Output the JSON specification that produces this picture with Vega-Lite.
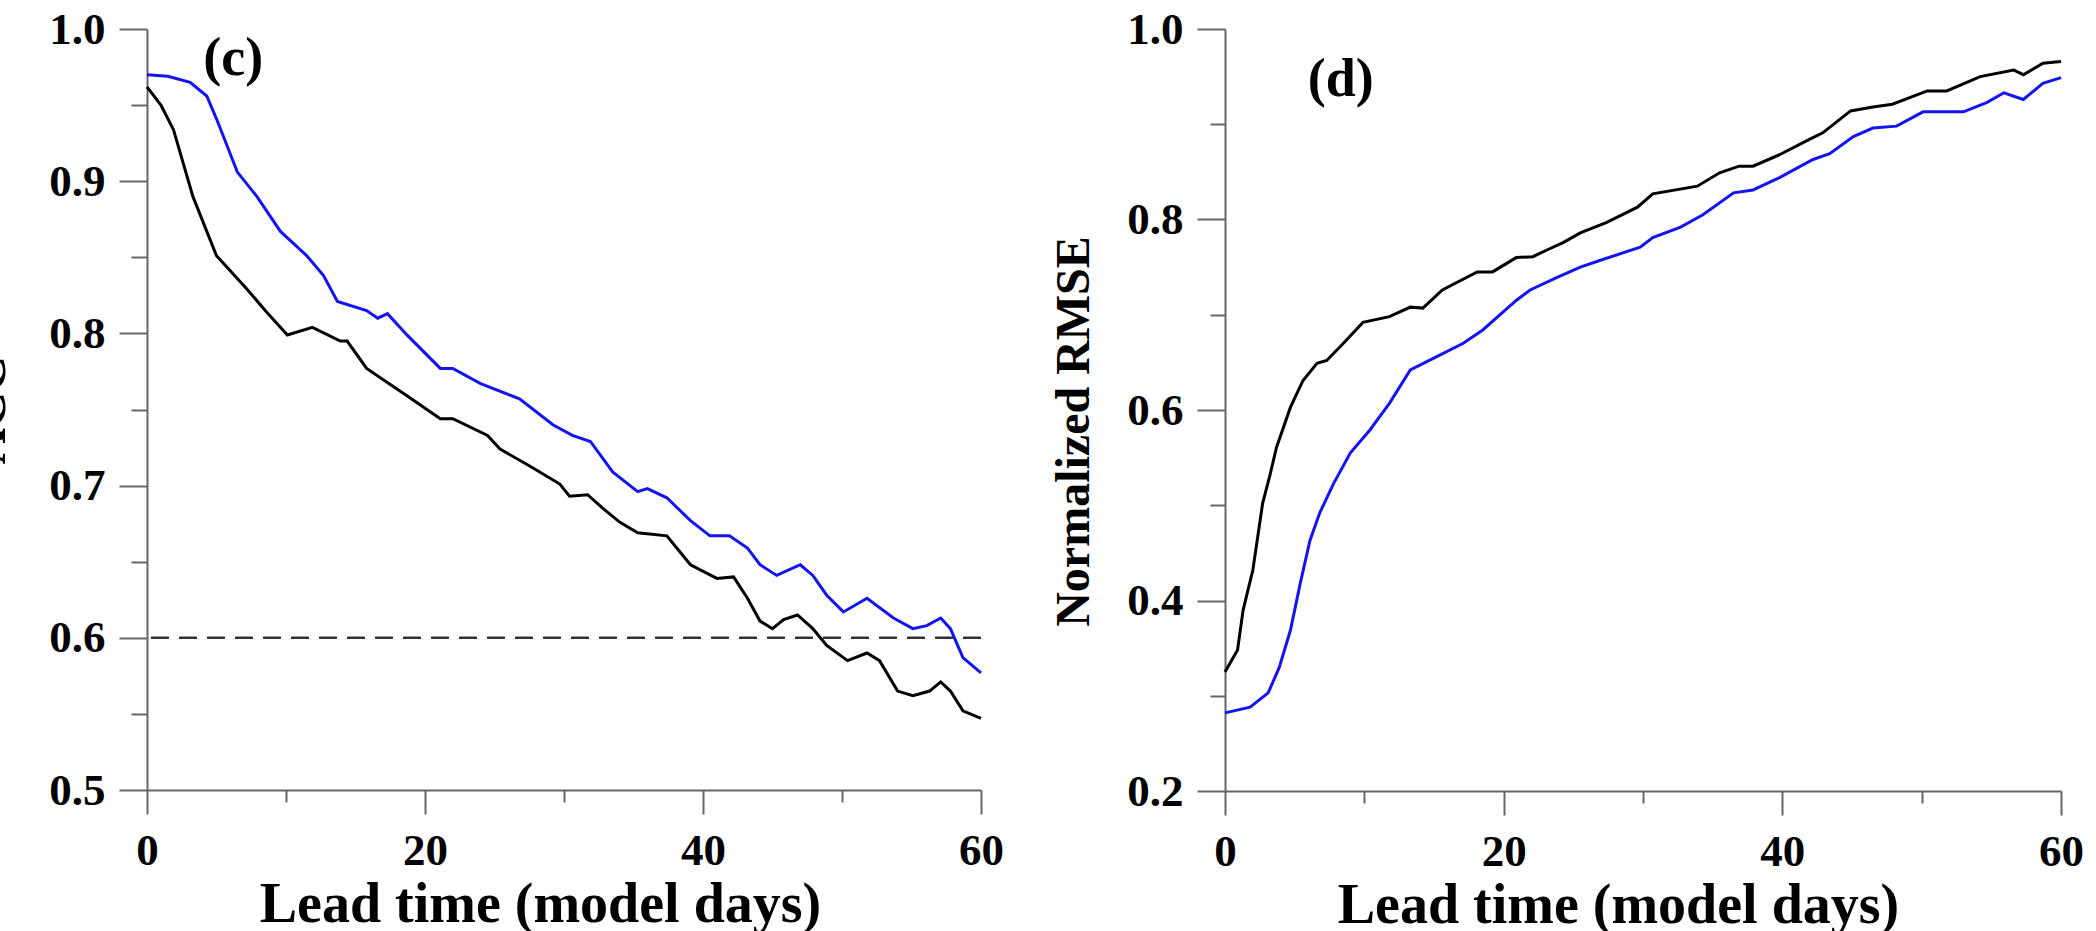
{
  "$schema": "https://vega.github.io/schema/vega-lite/v6.json",
  "background": "white",
  "padding": {"left": -36, "top": 7, "right": 0, "bottom": 0},
  "bounds": "flush",
  "spacing": 244,
  "config": {
    "view": {"stroke": null},
    "font": "Liberation Serif",
    "axis": {
      "domainColor": "#666666",
      "domainWidth": 2,
      "tickColor": "#666666",
      "tickWidth": 2,
      "grid": false,
      "labelFont": "Liberation Serif",
      "labelFontWeight": "bold",
      "labelFontSize": 45,
      "labelColor": "black",
      "titleFont": "Liberation Serif",
      "titleFontWeight": "bold",
      "titleColor": "black"
    }
  },
  "datasets": {
    "c": [
      {"series": "black", "lead": 0, "value": 0.962},
      {"series": "black", "lead": 1.0, "value": 0.950},
      {"series": "black", "lead": 1.9, "value": 0.934},
      {"series": "black", "lead": 3.3, "value": 0.890},
      {"series": "black", "lead": 5.0, "value": 0.851},
      {"series": "black", "lead": 7.2, "value": 0.829},
      {"series": "black", "lead": 8.6, "value": 0.814},
      {"series": "black", "lead": 10.1, "value": 0.799},
      {"series": "black", "lead": 11.9, "value": 0.804},
      {"series": "black", "lead": 13.9, "value": 0.795},
      {"series": "black", "lead": 14.4, "value": 0.795},
      {"series": "black", "lead": 15.8, "value": 0.777},
      {"series": "black", "lead": 18.7, "value": 0.759},
      {"series": "black", "lead": 21.1, "value": 0.744},
      {"series": "black", "lead": 22.0, "value": 0.744},
      {"series": "black", "lead": 24.5, "value": 0.733},
      {"series": "black", "lead": 25.4, "value": 0.724},
      {"series": "black", "lead": 27.5, "value": 0.713},
      {"series": "black", "lead": 29.7, "value": 0.701},
      {"series": "black", "lead": 30.4, "value": 0.693},
      {"series": "black", "lead": 31.7, "value": 0.694},
      {"series": "black", "lead": 32.8, "value": 0.685},
      {"series": "black", "lead": 34.0, "value": 0.676},
      {"series": "black", "lead": 35.3, "value": 0.669},
      {"series": "black", "lead": 37.4, "value": 0.667},
      {"series": "black", "lead": 39.1, "value": 0.648},
      {"series": "black", "lead": 41.0, "value": 0.639},
      {"series": "black", "lead": 42.2, "value": 0.640},
      {"series": "black", "lead": 43.2, "value": 0.626},
      {"series": "black", "lead": 44.1, "value": 0.611},
      {"series": "black", "lead": 45.0, "value": 0.606},
      {"series": "black", "lead": 45.8, "value": 0.612},
      {"series": "black", "lead": 46.8, "value": 0.615},
      {"series": "black", "lead": 47.9, "value": 0.606},
      {"series": "black", "lead": 48.9, "value": 0.595},
      {"series": "black", "lead": 50.4, "value": 0.585},
      {"series": "black", "lead": 51.8, "value": 0.590},
      {"series": "black", "lead": 52.7, "value": 0.585},
      {"series": "black", "lead": 54.0, "value": 0.565},
      {"series": "black", "lead": 55.1, "value": 0.562},
      {"series": "black", "lead": 56.3, "value": 0.565},
      {"series": "black", "lead": 57.1, "value": 0.571},
      {"series": "black", "lead": 57.8, "value": 0.565},
      {"series": "black", "lead": 58.7, "value": 0.552},
      {"series": "black", "lead": 60, "value": 0.547},
      {"series": "blue", "lead": 0, "value": 0.970},
      {"series": "blue", "lead": 1.5, "value": 0.969},
      {"series": "blue", "lead": 3.1, "value": 0.965},
      {"series": "blue", "lead": 4.3, "value": 0.956},
      {"series": "blue", "lead": 5.0, "value": 0.941},
      {"series": "blue", "lead": 6.5, "value": 0.906},
      {"series": "blue", "lead": 7.9, "value": 0.890},
      {"series": "blue", "lead": 9.6, "value": 0.867},
      {"series": "blue", "lead": 11.5, "value": 0.851},
      {"series": "blue", "lead": 12.7, "value": 0.838},
      {"series": "blue", "lead": 13.7, "value": 0.821},
      {"series": "blue", "lead": 15.8, "value": 0.815},
      {"series": "blue", "lead": 16.6, "value": 0.810},
      {"series": "blue", "lead": 17.3, "value": 0.813},
      {"series": "blue", "lead": 18.7, "value": 0.799},
      {"series": "blue", "lead": 21.1, "value": 0.777},
      {"series": "blue", "lead": 22.0, "value": 0.777},
      {"series": "blue", "lead": 24.0, "value": 0.767},
      {"series": "blue", "lead": 26.8, "value": 0.757},
      {"series": "blue", "lead": 29.2, "value": 0.740},
      {"series": "blue", "lead": 30.6, "value": 0.733},
      {"series": "blue", "lead": 31.9, "value": 0.729},
      {"series": "blue", "lead": 33.5, "value": 0.709},
      {"series": "blue", "lead": 35.3, "value": 0.696},
      {"series": "blue", "lead": 36.0, "value": 0.698},
      {"series": "blue", "lead": 37.4, "value": 0.692},
      {"series": "blue", "lead": 39.1, "value": 0.677},
      {"series": "blue", "lead": 40.5, "value": 0.667},
      {"series": "blue", "lead": 41.9, "value": 0.667},
      {"series": "blue", "lead": 43.2, "value": 0.659},
      {"series": "blue", "lead": 44.1, "value": 0.648},
      {"series": "blue", "lead": 45.3, "value": 0.641},
      {"series": "blue", "lead": 47.0, "value": 0.648},
      {"series": "blue", "lead": 47.9, "value": 0.641},
      {"series": "blue", "lead": 48.9, "value": 0.628},
      {"series": "blue", "lead": 50.1, "value": 0.617},
      {"series": "blue", "lead": 51.8, "value": 0.626},
      {"series": "blue", "lead": 53.7, "value": 0.613},
      {"series": "blue", "lead": 55.1, "value": 0.606},
      {"series": "blue", "lead": 56.1, "value": 0.608},
      {"series": "blue", "lead": 57.1, "value": 0.613},
      {"series": "blue", "lead": 57.8, "value": 0.606},
      {"series": "blue", "lead": 58.7, "value": 0.587},
      {"series": "blue", "lead": 60, "value": 0.577}
    ],
    "d": [
      {"series": "black", "lead": 0, "value": 0.325},
      {"series": "black", "lead": 0.9, "value": 0.348},
      {"series": "black", "lead": 1.3, "value": 0.390},
      {"series": "black", "lead": 2.0, "value": 0.432},
      {"series": "black", "lead": 2.7, "value": 0.502},
      {"series": "black", "lead": 3.2, "value": 0.530},
      {"series": "black", "lead": 3.7, "value": 0.561},
      {"series": "black", "lead": 4.7, "value": 0.603},
      {"series": "black", "lead": 5.6, "value": 0.631},
      {"series": "black", "lead": 6.6, "value": 0.649},
      {"series": "black", "lead": 7.3, "value": 0.652},
      {"series": "black", "lead": 8.5, "value": 0.670},
      {"series": "black", "lead": 9.9, "value": 0.692},
      {"series": "black", "lead": 11.8, "value": 0.698},
      {"series": "black", "lead": 13.3, "value": 0.708},
      {"series": "black", "lead": 14.2, "value": 0.707},
      {"series": "black", "lead": 15.6, "value": 0.726},
      {"series": "black", "lead": 18.1, "value": 0.745},
      {"series": "black", "lead": 19.2, "value": 0.745},
      {"series": "black", "lead": 20.9, "value": 0.760},
      {"series": "black", "lead": 22.1, "value": 0.761},
      {"series": "black", "lead": 23.1, "value": 0.768},
      {"series": "black", "lead": 24.3, "value": 0.776},
      {"series": "black", "lead": 25.5, "value": 0.786},
      {"series": "black", "lead": 27.4, "value": 0.797},
      {"series": "black", "lead": 29.6, "value": 0.813},
      {"series": "black", "lead": 30.7, "value": 0.827},
      {"series": "black", "lead": 33.9, "value": 0.835},
      {"series": "black", "lead": 35.5, "value": 0.849},
      {"series": "black", "lead": 36.9, "value": 0.856},
      {"series": "black", "lead": 37.9, "value": 0.856},
      {"series": "black", "lead": 39.8, "value": 0.868},
      {"series": "black", "lead": 41.8, "value": 0.883},
      {"series": "black", "lead": 42.9, "value": 0.891},
      {"series": "black", "lead": 44.9, "value": 0.914},
      {"series": "black", "lead": 46.5, "value": 0.918},
      {"series": "black", "lead": 47.9, "value": 0.921},
      {"series": "black", "lead": 50.4, "value": 0.935},
      {"series": "black", "lead": 51.8, "value": 0.935},
      {"series": "black", "lead": 54.2, "value": 0.950},
      {"series": "black", "lead": 56.6, "value": 0.957},
      {"series": "black", "lead": 57.3, "value": 0.952},
      {"series": "black", "lead": 58.7, "value": 0.964},
      {"series": "black", "lead": 60, "value": 0.966},
      {"series": "blue", "lead": 0, "value": 0.282},
      {"series": "blue", "lead": 1.8, "value": 0.288},
      {"series": "blue", "lead": 3.1, "value": 0.303},
      {"series": "blue", "lead": 3.9, "value": 0.330},
      {"series": "blue", "lead": 4.7, "value": 0.369},
      {"series": "blue", "lead": 5.4, "value": 0.418},
      {"series": "blue", "lead": 6.1, "value": 0.463},
      {"series": "blue", "lead": 6.8, "value": 0.492},
      {"series": "blue", "lead": 7.8, "value": 0.523},
      {"series": "blue", "lead": 9.0, "value": 0.555},
      {"series": "blue", "lead": 10.4, "value": 0.579},
      {"series": "blue", "lead": 11.8, "value": 0.607},
      {"series": "blue", "lead": 13.3, "value": 0.642},
      {"series": "blue", "lead": 15.2, "value": 0.656},
      {"series": "blue", "lead": 17.1, "value": 0.670},
      {"series": "blue", "lead": 18.5, "value": 0.684},
      {"series": "blue", "lead": 20.9, "value": 0.715},
      {"series": "blue", "lead": 21.9, "value": 0.726},
      {"series": "blue", "lead": 23.8, "value": 0.739},
      {"series": "blue", "lead": 25.5, "value": 0.750},
      {"series": "blue", "lead": 26.9, "value": 0.757},
      {"series": "blue", "lead": 29.8, "value": 0.771},
      {"series": "blue", "lead": 30.7, "value": 0.781},
      {"series": "blue", "lead": 32.7, "value": 0.792},
      {"series": "blue", "lead": 34.3, "value": 0.805},
      {"series": "blue", "lead": 36.5, "value": 0.828},
      {"series": "blue", "lead": 37.9, "value": 0.831},
      {"series": "blue", "lead": 39.8, "value": 0.844},
      {"series": "blue", "lead": 42.2, "value": 0.863},
      {"series": "blue", "lead": 43.4, "value": 0.869},
      {"series": "blue", "lead": 45.1, "value": 0.887},
      {"series": "blue", "lead": 46.5, "value": 0.896},
      {"series": "blue", "lead": 48.2, "value": 0.898},
      {"series": "blue", "lead": 50.1, "value": 0.913},
      {"series": "blue", "lead": 53.0, "value": 0.913},
      {"series": "blue", "lead": 54.7, "value": 0.923},
      {"series": "blue", "lead": 55.9, "value": 0.933},
      {"series": "blue", "lead": 57.3, "value": 0.926},
      {"series": "blue", "lead": 58.7, "value": 0.943},
      {"series": "blue", "lead": 60, "value": 0.949}
    ],
    "threshold": [{"value": 0.6}],
    "labc": [{"lead": 6.2, "value": 0.98, "label": "(c)"}],
    "labd": [{"lead": 8.3, "value": 0.946, "label": "(d)"}]
  },
  "hconcat": [
    {
      "width": 834,
      "height": 761,
      "layer": [
        {
          "data": {"name": "threshold"},
          "mark": {"type": "rule", "color": "#333333", "strokeWidth": 2.5, "strokeDash": [18, 10]},
          "encoding": {"y": {"field": "value", "type": "quantitative", "scale": {"domain": [0.5, 1.0]}}}
        },
        {
          "data": {"name": "c"},
          "mark": {"type": "line", "strokeWidth": 3, "interpolate": "linear"},
          "encoding": {
            "x": {
              "field": "lead", "type": "quantitative",
              "scale": {"domain": [0, 60], "nice": false, "zero": false},
              "axis": {
                "title": "Lead time (model days)",
                "titleFontSize": 56,
                "titlePadding": 4,
                "titleX": 393,
                "values": [0, 10, 20, 30, 40, 50, 60],
                "labelExpr": "datum.value % 20 === 0 ? datum.label : ''",
                "tickSize": {"condition": {"test": "datum.value % 20 === 0", "value": 24}, "value": 12},
                "labelPadding": 14,
                "labelFlush": false
              }
            },
            "y": {
              "field": "value", "type": "quantitative",
              "scale": {"domain": [0.5, 1.0], "nice": false, "zero": false},
              "axis": {
                "title": "ACC",
                "titleFontSize": 50,
                "titlePadding": 34,
                "values": [0.5, 0.55, 0.6, 0.65, 0.7, 0.75, 0.8, 0.85, 0.9, 0.95, 1.0],
                "labelExpr": "abs(datum.value * 10 - round(datum.value * 10)) < 0.001 ? format(datum.value, '.1f') : ''",
                "tickSize": {"condition": {"test": "abs(datum.value * 10 - round(datum.value * 10)) < 0.001", "value": 28}, "value": 16},
                "labelPadding": 14,
                "labelFlush": false
              }
            },
            "color": {
              "field": "series", "type": "nominal",
              "scale": {"domain": ["black", "blue"], "range": ["#000000", "#1414f0"]},
              "legend": null
            }
          }
        },
        {
          "data": {"name": "labc"},
          "mark": {"type": "text", "fontSize": 54, "fontWeight": "bold", "font": "Liberation Serif", "color": "black", "align": "center", "baseline": "middle"},
          "encoding": {
            "x": {"field": "lead", "type": "quantitative"},
            "y": {"field": "value", "type": "quantitative"},
            "text": {"field": "label"}
          }
        }
      ]
    },
    {
      "width": 836,
      "height": 762,
      "layer": [
        {
          "data": {"name": "d"},
          "mark": {"type": "line", "strokeWidth": 3, "interpolate": "linear"},
          "encoding": {
            "x": {
              "field": "lead", "type": "quantitative",
              "scale": {"domain": [0, 60], "nice": false, "zero": false},
              "axis": {
                "title": "Lead time (model days)",
                "titleFontSize": 56,
                "titlePadding": 4,
                "titleX": 393,
                "values": [0, 10, 20, 30, 40, 50, 60],
                "labelExpr": "datum.value % 20 === 0 ? datum.label : ''",
                "tickSize": {"condition": {"test": "datum.value % 20 === 0", "value": 24}, "value": 12},
                "labelPadding": 14,
                "labelFlush": false
              }
            },
            "y": {
              "field": "value", "type": "quantitative",
              "scale": {"domain": [0.2, 1.0], "nice": false, "zero": false},
              "axis": {
                "title": "Normalized RMSE",
                "titleFontSize": 48,
                "titlePadding": 28,
                "titleY": 402,
                "values": [0.2, 0.3, 0.4, 0.5, 0.6, 0.7, 0.8, 0.9, 1.0],
                "labelExpr": "abs(datum.value * 5 - round(datum.value * 5)) < 0.001 ? format(datum.value, '.1f') : ''",
                "tickSize": {"condition": {"test": "abs(datum.value * 5 - round(datum.value * 5)) < 0.001", "value": 28}, "value": 15},
                "labelPadding": 14,
                "labelFlush": false
              }
            },
            "color": {
              "field": "series", "type": "nominal",
              "scale": {"domain": ["black", "blue"], "range": ["#000000", "#1414f0"]},
              "legend": null
            }
          }
        },
        {
          "data": {"name": "labd"},
          "mark": {"type": "text", "fontSize": 54, "fontWeight": "bold", "font": "Liberation Serif", "color": "black", "align": "center", "baseline": "middle"},
          "encoding": {
            "x": {"field": "lead", "type": "quantitative"},
            "y": {"field": "value", "type": "quantitative"},
            "text": {"field": "label"}
          }
        }
      ]
    }
  ]
}
